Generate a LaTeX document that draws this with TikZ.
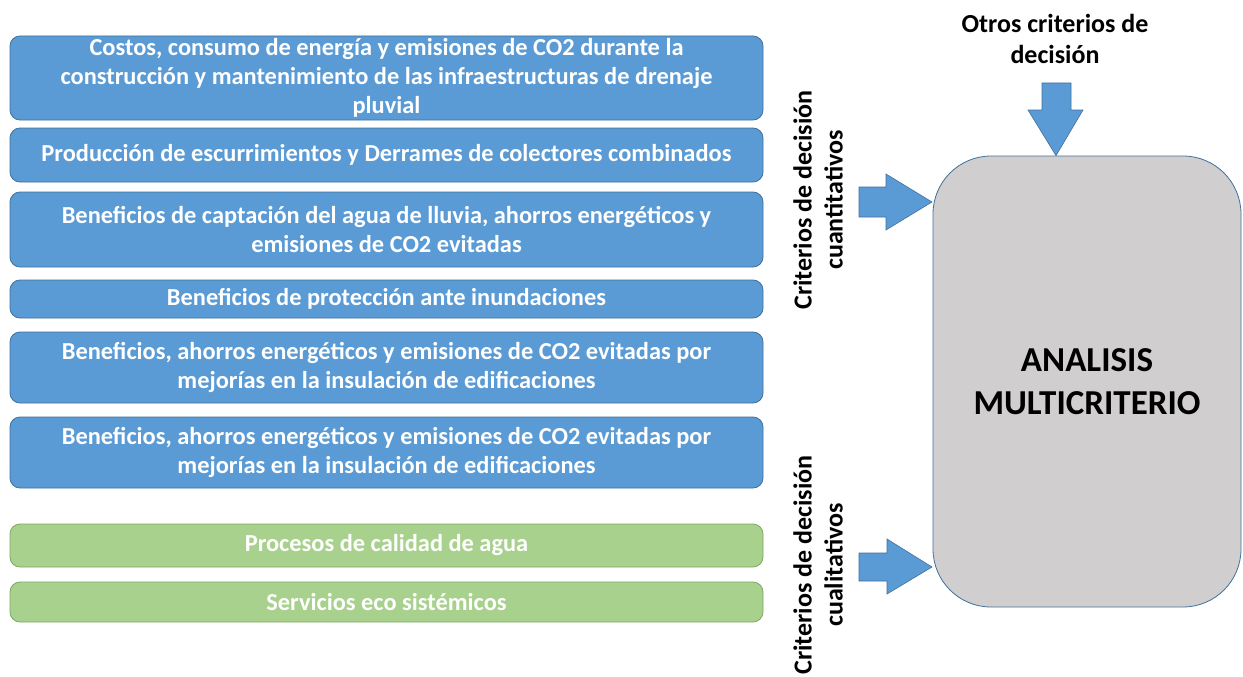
\documentclass[tikz,border=0pt]{standalone}
\usepackage{fontspec}
\setmainfont{Carlito}
\begin{document}
\begin{tikzpicture}[x=1pt,y=-1pt,
  bluebox/.style={draw=boxedge,line width=0.8pt,fill=boxblue,rounded corners=10pt,
    minimum width=753pt,inner sep=0pt,align=center,text=white,
    font=\fontsize{24.4}{29}\selectfont\bfseries},
  greenbox/.style={bluebox,draw=greenedge,fill=boxgreen},
  lbl/.style={align=center,font=\fontsize{26}{31}\selectfont\bfseries,text=black,inner sep=0pt},
  blockarrow/.style={draw=boxedge,line width=0.6pt,fill=boxblue}
]
\definecolor{boxblue}{HTML}{5B9BD5}
\definecolor{boxedge}{HTML}{41719C}
\definecolor{boxgreen}{HTML}{A9D18E}
\definecolor{greenedge}{HTML}{7FA862}
\definecolor{boxgray}{HTML}{D0CECE}
\useasboundingbox (0,0) rectangle (1243,677);
\fill[white] (0,0) rectangle (1243,677);

\node[bluebox,minimum height=84pt] (b1) at (386.5,78) {Costos, consumo de energía y emisiones de CO2 durante la\\construcción y mantenimiento de las infraestructuras de drenaje\\pluvial};
\node[bluebox,minimum height=54pt] (b2) at (386.5,155) {Producción de escurrimientos y Derrames de colectores combinados};
\node[bluebox,minimum height=75pt] (b3) at (386.5,229.5) {Beneficios de captación del agua de lluvia, ahorros energéticos y\\emisiones de CO2 evitadas};
\node[bluebox,minimum height=38pt] (b4) at (386.5,299) {Beneficios de protección ante inundaciones};
\node[bluebox,minimum height=71pt] (b5) at (386.5,367.5) {Beneficios, ahorros energéticos y emisiones de CO2 evitadas por\\mejorías en la insulación de edificaciones};
\node[bluebox,minimum height=71pt] (b6) at (386.5,452.5) {Beneficios, ahorros energéticos y emisiones de CO2 evitadas por\\mejorías en la insulación de edificaciones};
\node[greenbox,minimum height=43pt] (g1) at (386.5,545.5) {Procesos de calidad de agua};
\node[greenbox,minimum height=40pt] (g2) at (386.5,602) {Servicios eco sistémicos};

\node[draw=boxedge,line width=0.8pt,fill=boxgray,rounded corners=58pt,
  minimum width=308pt,minimum height=451pt,inner sep=0pt,align=center,
  font=\fontsize{35}{43}\selectfont\bfseries] (ma) at (1087,381.5) {ANALISIS\\MULTICRITERIO};

\node[lbl] (otros) at (1055,39) {Otros criterios de\\decisión};
\node[lbl,rotate=90] (cuant) at (818,200) {Criterios de decisión\\cuantitativos};
\node[lbl,rotate=90] (cual) at (818,565) {Criterios de decisión\\cualitativos};

% block arrows
\coordinate (t1) at (ma.north -| 1056,0);
\draw[blockarrow] (1042,83) -- (1071,83) -- (1071,110) -- (1083,110) -- (t1) -- (1028,110) -- (1042,110) -- cycle;
\coordinate (t2) at (932,202);
\draw[blockarrow] (859,187) -- (886,187) -- (886,174) -- (t2) -- (886,230) -- (886,217) -- (859,217) -- cycle;
\coordinate (t3) at (932,567);
\draw[blockarrow] (859,553) -- (887,553) -- (887,539) -- (t3) -- (887,594) -- (887,581) -- (859,581) -- cycle;
\end{tikzpicture}
\end{document}
